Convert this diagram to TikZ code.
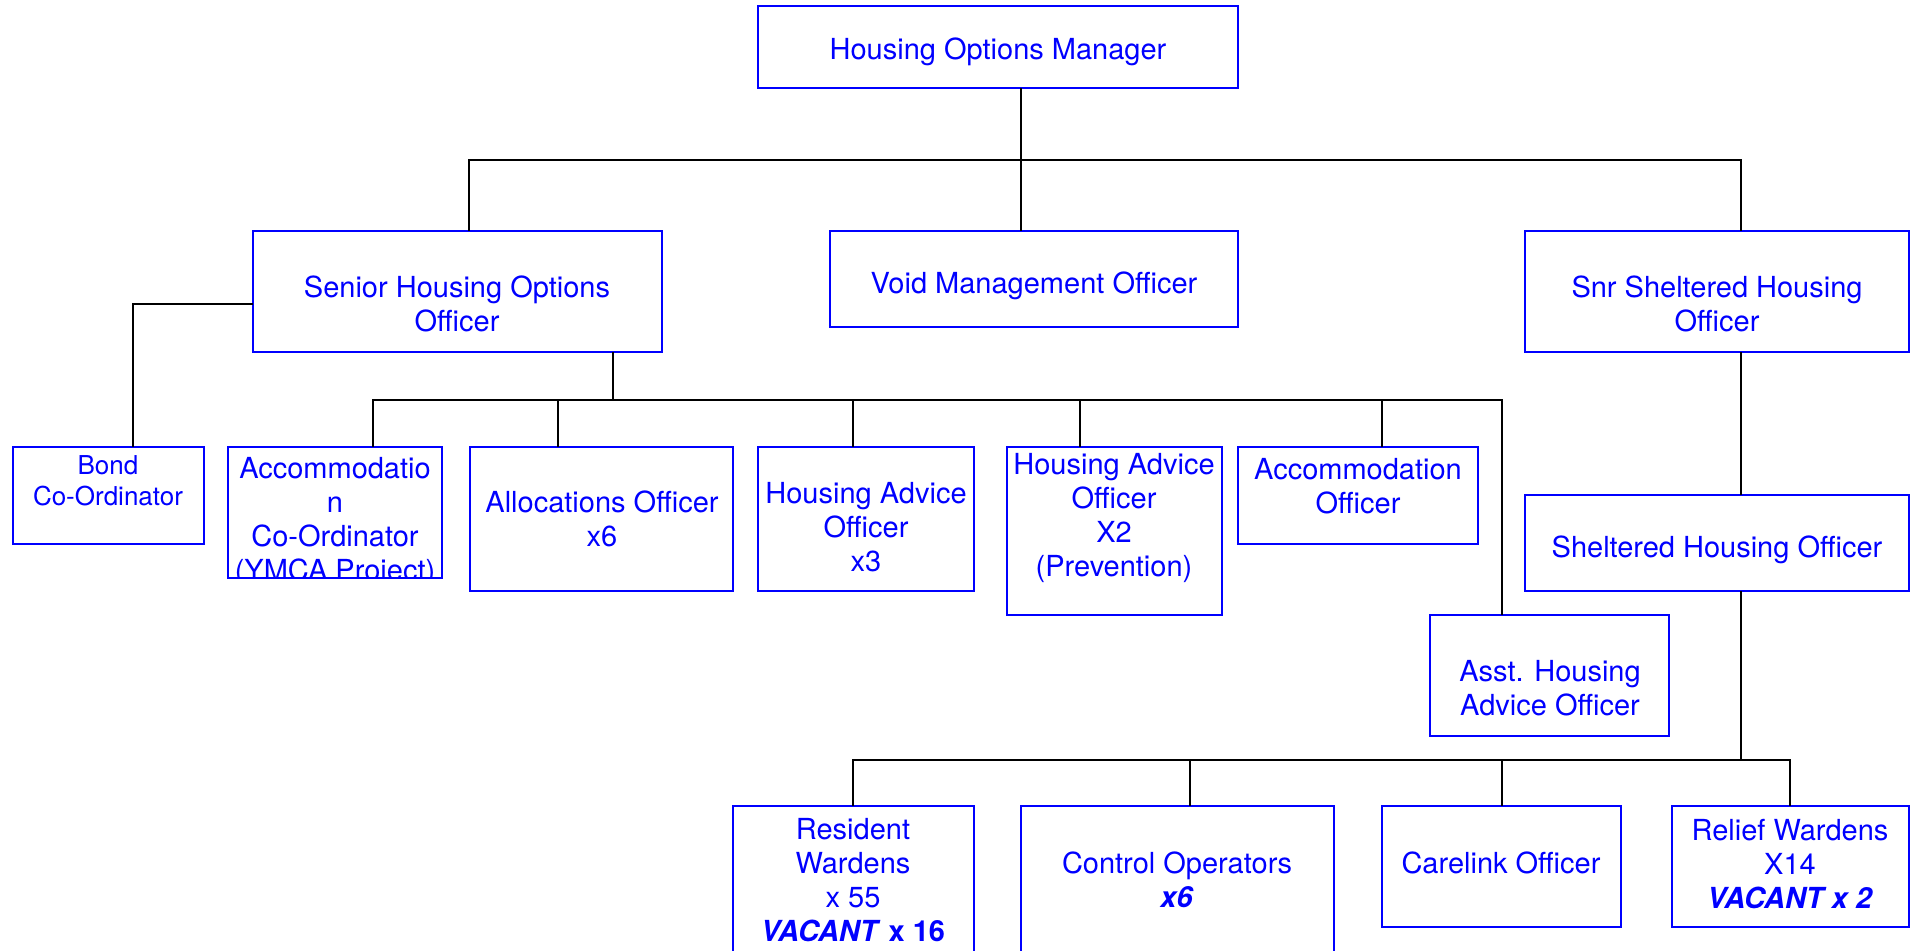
\documentclass[tikz,border=0pt]{standalone}
\usepackage{fontspec}
\setmainfont{TeX Gyre Heros}
\usepackage{tikz}
\usetikzlibrary{positioning}
\tikzset{post/.style = {draw=blue,line width=1.5pt,anchor=north west,inner sep=0pt,outer sep=0pt}}
\tikzset{lbl/.style = {text=blue,align=center,inner sep=0pt,font=\fontsize{29}{34}\selectfont}}
\tikzset{link/.style = {line width=1.3pt}}

\begin{document}
\begin{tikzpicture}[x=1pt,y=-1pt]
        \useasboundingbox (0,0) rectangle (1916,950);
        \clip (0,0) rectangle (1916,950);
        % boxes
        \node[post,minimum width=480pt,minimum height=82pt] (mgr) at (758,6) {};
        \node[post,minimum width=409pt,minimum height=121pt] (senior) at (253,231) {};
        \node[post,minimum width=408pt,minimum height=96pt] (void) at (830,231) {};
        \node[post,minimum width=384pt,minimum height=121pt] (snr) at (1525,231) {};
        \node[post,minimum width=191pt,minimum height=97pt] (bond) at (13,447) {};
        \node[post,minimum width=214pt,minimum height=131pt] (acccoord) at (228,447) {};
        \node[post,minimum width=263pt,minimum height=144pt] (alloc) at (470,447) {};
        \node[post,minimum width=216pt,minimum height=144pt] (hao3) at (758,447) {};
        \node[post,minimum width=215pt,minimum height=168pt] (hao2) at (1007,447) {};
        \node[post,minimum width=240pt,minimum height=97pt] (accoff) at (1238,447) {};
        \node[post,minimum width=239pt,minimum height=121pt] (asst) at (1430,615) {};
        \node[post,minimum width=384pt,minimum height=96pt] (sho) at (1525,495) {};
        \node[post,minimum width=241pt,minimum height=170pt] (resident) at (733,806) {};
        \node[post,minimum width=313pt,minimum height=170pt] (control) at (1021,806) {};
        \node[post,minimum width=239pt,minimum height=121pt] (carelink) at (1382,806) {};
        \node[post,minimum width=237pt,minimum height=121pt] (relief) at (1672,806) {};
        % labels
        \node[lbl] (mgrT) at (998,52) {Housing Options Manager};
        \node[lbl] (seniorT) at (457,304) {Senior Housing Options\\Officer};
        \node[lbl] (voidT) at (1034,286) {Void Management Officer};
        \node[lbl] (snrT) at (1717,304) {Snr Sheltered Housing\\Officer};
        \node[lbl,font=\fontsize{26}{31}\selectfont] (bondT) at (108,481) {Bond\\Co-Ordinator};
        \begin{scope}
            \clip (228,447) rectangle (442,578);
            \node[lbl,anchor=north] (acccoordT) at (335,457) {Accommodatio\\n\\Co-Ordinator\\(YMCA Project)};
        \end{scope}
        \node[lbl] (allocT) at (602,519) {Allocations Officer\\x6};
        \node[lbl] (hao3T) at (866,527) {Housing Advice\\Officer\\x3};
        \node[lbl] (hao2T) at (1114,518) {Housing Advice\\Officer\\X2\\(Prevention)};
        \node[lbl] (accoffT) at (1358,486) {Accommodation\\Officer};
        \node[lbl] (asstT) at (1550,688) {Asst. Housing\\Advice Officer};
        \node[lbl] (shoT) at (1717,550) {Sheltered Housing Officer};
        \node[lbl] (residentT) at (853,880) {Resident\\Wardens\\x 55\\\textbf{\textit{VACANT} x 16}};
        \node[lbl] (controlT) at (1177,880) {Control Operators\\\textbf{\textit{x6}}};
        \node[lbl] (carelinkT) at (1501,863) {Carelink Officer};
        \node[lbl] (reliefT) at (1790,864) {Relief Wardens\\X14\\\textbf{\textit{VACANT x 2}}};
        % top level
        \coordinate (j0) at (1021,160);
        \coordinate (jL) at (469,160);
        \coordinate (jR) at (1741,160);
        \draw[link] (j0 |- mgr.south) -- (j0 |- void.north);
        \draw[link] (jL |- senior.north) -- (jL) -- (jR) -- (jR |- snr.north);
        % bond
        \coordinate (bnd) at (133,304);
        \draw[link] (senior.west |- bnd) -- (bnd) -- (bnd |- bond.north);
        % senior officer team
        \coordinate (s2) at (613,400);
        \coordinate (b2L) at (373,400);
        \coordinate (b2R) at (1502,400);
        \draw[link] (s2 |- senior.south) -- (s2);
        \draw[link] (b2L |- acccoord.north) -- (b2L) -- (b2R) -- (b2R |- asst.north);
        \foreach \dx/\nm in {558/alloc,853/hao3,1080/hao2,1382/accoff}{
            \coordinate (d\nm) at (\dx,400);
            \draw[link] (d\nm) -- (d\nm |- \nm.north);
        }
        % sheltered
        \coordinate (b3) at (1741,760);
        \coordinate (b3L) at (853,760);
        \coordinate (b3R) at (1790,760);
        \draw[link] (jR |- snr.south) -- (jR |- sho.north);
        \draw[link] (b3 |- sho.south) -- (b3);
        \draw[link] (b3L |- resident.north) -- (b3L) -- (b3R) -- (b3R |- relief.north);
        \foreach \dx/\nm in {1190/control,1502/carelink}{
            \coordinate (d\nm) at (\dx,760);
            \draw[link] (d\nm) -- (d\nm |- \nm.north);
        }
\end{tikzpicture}
\end{document}
